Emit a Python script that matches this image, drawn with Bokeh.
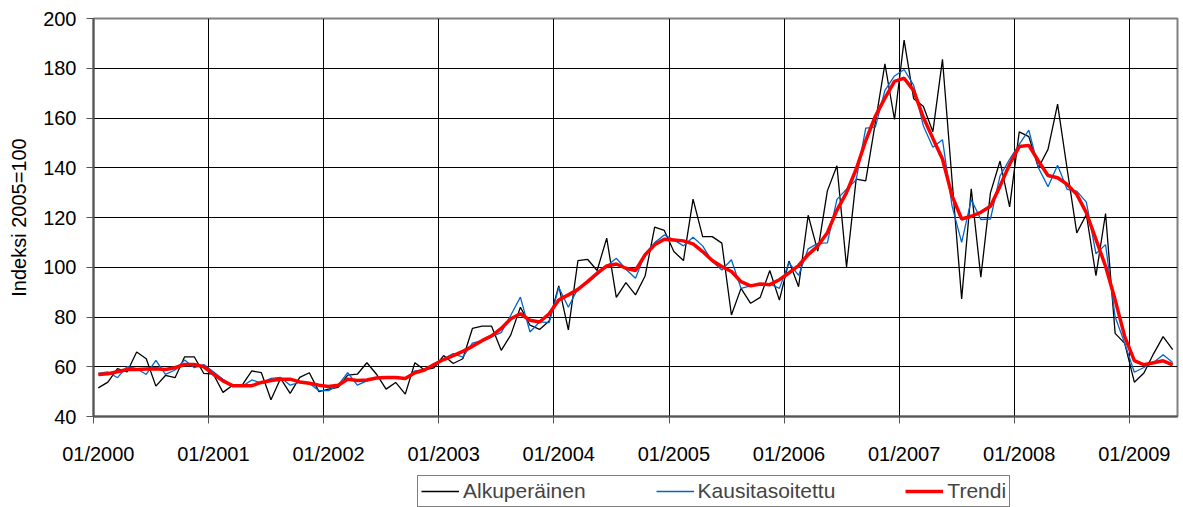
import numpy as np
from bokeh.plotting import figure
from bokeh.layouts import column
from bokeh.models import FixedTicker, Legend, LegendItem, Range1d
from bokeh.embed import file_html
from bokeh.resources import INLINE

# Monthly index values 01/2000 - 05/2009 (2005=100)
alkuperainen = [
    51.5, 53.8, 59.2, 57.9, 65.9, 63.2, 52.2, 56.5, 55.6, 64.0, 64.0, 57.3,
    57.0, 49.7, 52.6, 52.6, 58.3, 57.6, 46.7, 55.3, 49.3, 55.7, 57.6, 50.0,
    51.0, 51.7, 56.6, 57.0, 61.6, 57.0, 51.0, 53.7, 49.0, 61.6, 58.7, 59.6,
    64.5, 61.3, 63.2, 75.4, 76.3, 76.3, 66.6, 72.8, 83.9, 76.7, 75.0, 78.4,
    92.5, 74.8, 102.7, 103.2, 98.7, 111.7, 87.9, 93.8, 88.9, 96.5, 116.1, 114.8,
    106.3, 102.7, 127.4, 112.3, 112.3, 109.7, 80.8, 91.5, 85.5, 87.9, 98.7, 86.8,
    102.5, 92.2, 120.9, 106.5, 130.7, 140.8, 100.1, 135.4, 134.7, 158.0, 181.8, 159.4,
    191.3, 167.7, 164.7, 154.5, 183.6, 135.0, 87.3, 131.5, 96.0, 129.9, 142.7, 124.3,
    154.4, 152.5, 140.0, 147.4, 165.6, 139.4, 113.8, 121.2, 96.6, 121.6, 73.4, 69.4,
    53.8, 57.5, 65.2, 72.1, 66.9,
]
kausitasoitettu = [
    57.3, 57.9, 55.6, 60.0, 59.2, 56.9, 62.6, 56.9, 58.7, 62.7, 59.6, 60.9,
    58.0, 55.0, 52.4, 52.1, 54.7, 53.4, 55.3, 55.7, 52.6, 53.7, 53.4, 50.4,
    50.4, 52.6, 57.6, 52.6, 54.3, 55.7, 55.7, 56.0, 55.0, 58.3, 58.7, 60.9,
    63.2, 65.3, 63.9, 69.5, 70.5, 72.1, 73.7, 80.7, 88.0, 74.0, 78.0, 77.7,
    91.9, 83.9, 91.5, 93.8, 96.9, 100.5, 103.6, 99.2, 95.6, 105.4, 109.9, 113.0,
    111.0, 108.6, 112.1, 108.6, 102.3, 98.9, 103.0, 91.5, 92.5, 93.3, 93.3, 91.5,
    101.9, 96.7, 107.4, 109.6, 109.8, 127.3, 131.4, 135.1, 155.9, 156.3, 171.1, 176.9,
    179.5, 173.1, 156.9, 148.2, 151.3, 124.6, 110.0, 127.2, 119.2, 119.4, 136.7, 143.4,
    149.4, 155.1, 140.0, 132.4, 141.0, 131.3, 130.6, 126.2, 105.4, 109.1, 80.1, 69.4,
    57.8, 59.7, 61.7, 64.8, 61.7,
]
trendi = [
    56.9, 57.2, 58.0, 58.9, 58.9, 59.1, 59.2, 58.9, 59.6, 60.9, 60.9, 60.0,
    57.0, 54.3, 52.4, 52.4, 52.4, 53.7, 54.5, 55.0, 55.0, 53.9, 53.4, 52.6,
    52.1, 52.6, 55.0, 54.5, 54.7, 55.5, 55.7, 55.7, 55.3, 57.6, 58.7, 60.9,
    62.9, 64.5, 66.2, 68.2, 70.5, 72.4, 75.4, 79.3, 81.3, 78.7, 78.0, 81.3,
    86.8, 88.9, 91.1, 94.2, 97.6, 100.5, 101.3, 99.6, 98.7, 105.0, 109.0, 111.3,
    111.0, 110.6, 109.4, 106.3, 102.7, 100.3, 98.3, 94.2, 92.5, 93.3, 93.0, 95.0,
    97.7, 100.7, 105.1, 108.5, 113.9, 123.0, 130.0, 139.4, 150.9, 160.7, 168.0, 174.7,
    176.0, 171.0, 160.3, 151.8, 143.5, 128.7, 119.4, 120.5, 122.1, 124.5, 132.6, 141.4,
    148.5, 149.0, 142.7, 136.9, 136.0, 133.3, 129.3, 121.9, 111.2, 100.4, 86.9, 72.1,
    62.5, 60.8, 61.6, 62.4, 60.8,
]
tick_labels = ["01/2000", "01/2001", "01/2002", "01/2003", "01/2004",
               "01/2005", "01/2006", "01/2007", "01/2008", "01/2009"]
series_names = ["Alkuperäinen", "Kausitasoitettu", "Trendi"]
series_colors = ["black", "#0066CC", "#FF0000"]
series_widths = [1.3, 1.3, 3.5]
y_label = "Indeksi 2005=100"

series = [alkuperainen, kausitasoitettu, trendi]
n = len(alkuperainen)
x = np.arange(n) + 0.5                       # month centres
tick_pos = [12 * k for k in range(len(tick_labels))]          # year boundaries
label_pos = [12 * k + 0.5 for k in range(len(tick_labels))]   # January centres

FONT = "Liberation Sans"
FS = "20px"

p = figure(width=1183, height=470, output_backend="svg", toolbar_location=None,
           x_range=Range1d(0, n), y_range=Range1d(40, 200),
           min_border_left=93, min_border_right=6, min_border_top=18,
           min_border_bottom=54)
p.background_fill_color = "white"
p.border_fill_color = "white"
p.outline_line_color = "#808080"
p.outline_line_width = 2

for vals, c, w in zip(series, series_colors, series_widths):
    p.line(x, vals, line_color=c, line_width=w)

# x axis: labels centred on January, tick marks (minor) at year boundaries
xa = p.xaxis[0]
xa.ticker = FixedTicker(ticks=label_pos, minor_ticks=tick_pos)
xa.major_label_overrides = {lp: l for lp, l in zip(label_pos, tick_labels)}
xa.major_label_text_font = FONT
xa.major_label_text_font_size = FS
xa.major_label_text_color = "black"
xa.major_label_standoff = 19
xa.axis_line_color = "#555555"
xa.axis_line_width = 2
xa.major_tick_line_color = None
xa.major_tick_out = 0
xa.major_tick_in = 0
xa.minor_tick_line_color = "#555555"
xa.minor_tick_line_width = 1
xa.minor_tick_out = 7
xa.minor_tick_in = 0

ya = p.yaxis[0]
ya.ticker = FixedTicker(ticks=list(range(40, 201, 20)))
ya.major_label_text_font = FONT
ya.major_label_text_font_size = FS
ya.major_label_text_color = "black"
ya.axis_line_color = "#555555"
ya.axis_line_width = 2
ya.major_tick_line_color = "#555555"
ya.major_tick_out = 7
ya.major_tick_in = 0
ya.minor_tick_line_color = None
ya.major_label_standoff = 10
ya.axis_label = y_label
ya.axis_label_text_font = FONT
ya.axis_label_text_font_size = FS
ya.axis_label_text_font_style = "normal"
ya.axis_label_text_color = "black"
ya.axis_label_standoff = 10

p.xgrid.ticker = FixedTicker(ticks=tick_pos)
p.xgrid.grid_line_color = "black"
p.xgrid.grid_line_width = 1
p.ygrid.grid_line_color = "black"
p.ygrid.grid_line_width = 1

# legend strip under the chart (its lines lie outside its own ranges)
pl = figure(width=1183, height=37, output_backend="svg", toolbar_location=None,
            x_range=Range1d(0, 1), y_range=Range1d(0, 1),
            x_axis_type=None, y_axis_type=None,
            min_border_left=0, min_border_right=0, min_border_top=0, min_border_bottom=0)
pl.outline_line_color = None
pl.xgrid.visible = False
pl.ygrid.visible = False
items = []
for name, vals, c, w in zip(series_names, series, series_colors, series_widths):
    r = pl.line(x, vals, line_color=c, line_width=w)
    items.append(LegendItem(label=name, renderers=[r]))
legend = Legend(items=items, orientation="horizontal", location=(324, 0),
                label_text_font=FONT, label_text_font_size="21px",
                glyph_width=38, glyph_height=20, label_standoff=4,
                spacing=70, padding=3, margin=0,
                border_line_color="black", border_line_width=1,
                background_fill_color="white", background_fill_alpha=1)
pl.add_layout(legend, "center")

open("out.html", "w").write(file_html(column(p, pl, spacing=0), INLINE))
